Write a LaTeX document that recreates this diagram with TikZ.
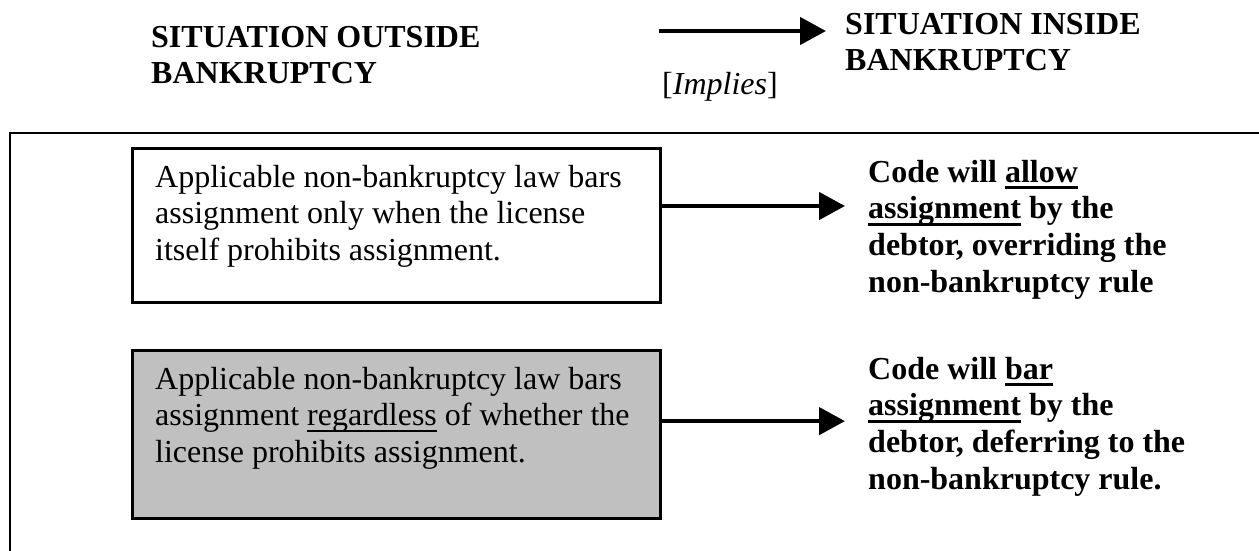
\documentclass[tikz,border=0pt]{standalone}
\usepackage{fontspec}
\setmainfont{Liberation Serif}
\usetikzlibrary{arrows.meta,calc}
\newsavebox{\myulbox}
\newcommand{\myulb}[1]{\leavevmode\sbox{\myulbox}{#1}\rlap{\rule[-7pt]{\wd\myulbox}{2.6pt}}\usebox{\myulbox}}
\newcommand{\myulr}[1]{\leavevmode\sbox{\myulbox}{#1}\rlap{\rule[-6pt]{\wd\myulbox}{1.6pt}}\usebox{\myulbox}}
\tikzset{
  txt/.style={inner sep=0pt, anchor=base west, font=\fontsize{32}{36.8}\selectfont},
  bx/.style={draw=black, line width=2.5pt, inner sep=0pt, anchor=north west, minimum width=528pt},
  arr/.style={line width=4.6pt, -{Triangle[length=26pt,width=27pt]}},
}
\begin{document}
\begin{tikzpicture}[x=1pt,y=-1pt]
\useasboundingbox (0,0) rectangle (1259,550);
% outer frame (runs off the page to the right and bottom)
\draw[line width=2.5pt] (1262,133) -- (10,133) -- (10,553);
% headers
\node[txt] (h1) at (151,47) {\parbox[t]{400pt}{\bfseries SITUATION OUTSIDE\\BANKRUPTCY}};
\node[txt] (h2) at (845,34) {\parbox[t]{400pt}{\bfseries SITUATION INSIDE\\BANKRUPTCY}};
\node[txt] (imp) at (662,94) {[\textit{Implies}]};
\coordinate (ta) at (659,31);
\draw[arr, shorten >=19pt] (ta) -- (ta -| h2.west);
% boxes
\node[bx, minimum height=154pt] (b1) at (131,147) {};
\node[bx, minimum height=168pt, fill={rgb,255:red,192;green,192;blue,192}] (b2) at (131,349) {};
\node[txt] (t1) at (155,187) {\parbox[t]{500pt}{\raggedright Applicable non-bankruptcy law bars\\assignment only when the license\\itself prohibits assignment.}};
\node[txt] (t2) at (155,389) {\parbox[t]{500pt}{\raggedright Applicable non-bankruptcy law bars\\assignment \myulr{regardless} of whether the\\license prohibits assignment.}};
% right texts
\node[txt] (r1) at (868,182) {\parbox[t]{380pt}{\raggedright\bfseries Code will \myulb{allow}\\\myulb{assignment} by the\\debtor, overriding the\\non-bankruptcy rule}};
\node[txt] (r2) at (868,379) {\parbox[t]{380pt}{\raggedright\bfseries Code will \myulb{bar}\\\myulb{assignment} by the\\debtor, deferring to the\\non-bankruptcy rule.}};
% connectors
\coordinate (a1) at ($(b1.north east)!0.377!(b1.south east)$);
\coordinate (a2) at ($(b2.north east)!0.423!(b2.south east)$);
\draw[arr, shorten >=23pt] (a1) -- (a1 -| r1.west);
\draw[arr, shorten >=23pt] (a2) -- (a2 -| r2.west);
\end{tikzpicture}
\end{document}
